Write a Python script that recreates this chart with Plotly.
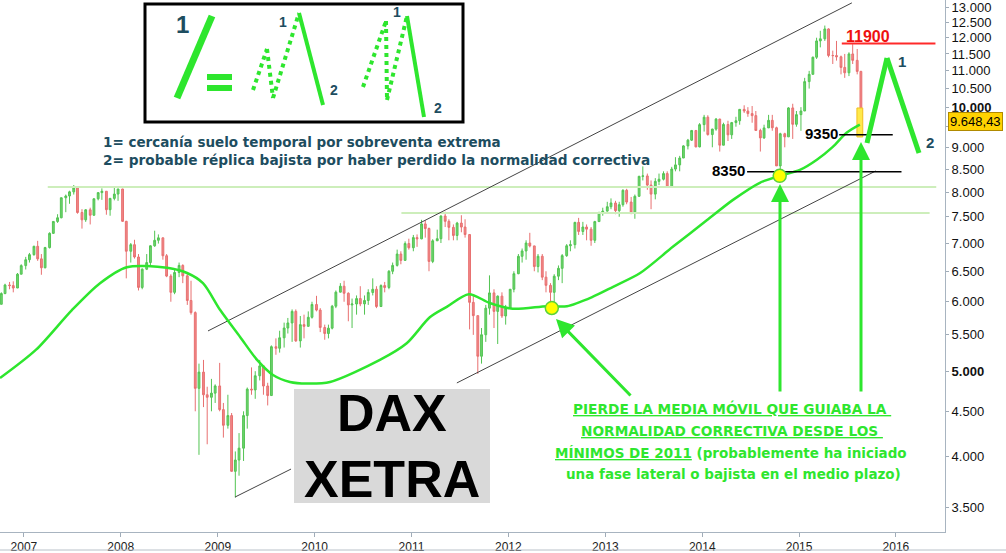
import pandas as pd
import plotly.graph_objects as go

# ---------------- DATA (semi-monthly DAX bars) ----------------
first_open = 5960
close = [
    6130, 6270, 6260, 6220, 6450, 6597,
    6700, 6790, 6940, 6715, 6560, 6917, 7180, 7408, 7480, 7883, 7920, 8007, 8090, 7584, 7440, 7638, 7530, 7862, 7990, 8019, 7640, 7870, 7960, 8067,
    7410, 6851, 6970, 6748, 6230, 6535, 6650, 6949, 7050, 7096, 6770, 6418, 6150, 6479, 6600, 6422, 6020, 5831, 4780, 4988, 4700, 4669, 4720, 4810,
    4520, 4338, 4450, 3844, 3960, 4085, 4450, 4770, 4760, 4940, 5070, 4809, 4690, 5332, 5310, 5458, 5600, 5675, 5850, 5414, 5650, 5625, 5760, 5957,
    5870, 5608, 5520, 5598, 5930, 6153, 6250, 6135, 5950, 5964, 6050, 5966, 6020, 6148, 6200, 5925, 6260, 6229, 6500, 6601, 6800, 6688, 6990, 6914,
    7100, 7077, 7360, 7272, 6670, 7041, 7080, 7514, 7410, 7294, 7140, 7376, 7300, 7158, 5990, 5785, 5200, 5502, 5900, 6141, 5850, 6089, 5780, 5898,
    6200, 6458, 6760, 6856, 7000, 6947, 6580, 6761, 6400, 6264, 6150, 6416, 6550, 6772, 6950, 6970, 7390, 7216, 7300, 7260, 7050, 7405, 7580, 7612,
    7700, 7776, 7620, 7741, 8040, 7795, 7590, 7914, 8340, 8348, 8150, 7959, 8230, 8276, 8400, 8103, 8500, 8594, 8750, 9033, 9170, 9405, 9010, 9552,
    9740, 9306, 9440, 9692, 9050, 9556, 9300, 9603, 9650, 9943, 9900, 9833, 9780, 9407, 9225, 9470, 9660, 9474, 8571, 9326, 9250, 9980, 9560, 9806,
    9900, 10694, 10900, 11401, 11900, 11966, 12280, 11454, 11450, 11414, 11100, 10945, 11500, 11308, 10985, 9648,
]
high = [
    6150, 6290, 6320, 6330, 6470, 6620,
    6750, 6820, 6950, 7040, 6800, 6930, 7200, 7410, 7550, 7890, 7950, 8030, 8151, 8100, 7650, 7650, 7680, 7870, 8000, 8080, 8020, 7880, 8100, 8070,
    8070, 7420, 7000, 7060, 6800, 6550, 6800, 6960, 7230, 7160, 7100, 6800, 6450, 6550, 6650, 6620, 6450, 6340, 5850, 5100, 5150, 4800, 4900, 4830,
    5110, 4600, 4700, 4480, 4050, 4250, 4500, 4790, 5050, 5000, 5150, 5050, 4850, 5350, 5450, 5560, 5680, 5750, 5880, 5880, 5780, 5800, 5850, 6000,
    6094, 5900, 5650, 5650, 5950, 6180, 6300, 6340, 6150, 6050, 6100, 6250, 6100, 6200, 6380, 6250, 6280, 6320, 6520, 6650, 6880, 6850, 7030, 7080,
    7150, 7160, 7440, 7430, 7290, 7070, 7250, 7530, 7600, 7450, 7350, 7400, 7530, 7450, 7100, 6100, 5700, 5600, 5950, 6430, 6200, 6100, 6150, 5950,
    6200, 6500, 6800, 6900, 7050, 7190, 6950, 6800, 6800, 6500, 6300, 6450, 6600, 6800, 6980, 7050, 7400, 7478, 7400, 7350, 7300, 7420, 7600, 7680,
    7800, 7870, 7820, 7800, 8060, 8070, 7900, 7950, 8350, 8560, 8400, 8250, 8300, 8400, 8450, 8450, 8550, 8770, 8800, 9050, 9200, 9420, 9420, 9590,
    9800, 9790, 9450, 9720, 9700, 9600, 9650, 9620, 9750, 9950, 10050, 10000, 10030, 9900, 9450, 9550, 9800, 9800, 9500, 9350, 9350, 10000, 10090, 9900,
    10000, 10800, 11000, 11420, 12000, 12220, 12390, 12300, 11600, 11900, 11450, 11500, 11550, 11800, 11650, 11000,
]
low = [
    5970, 6120, 6200, 6150, 6230, 6450,
    6530, 6650, 6770, 6680, 6440, 6550, 6900, 7170, 7380, 7470, 7590, 7760, 7950, 7560, 7270, 7400, 7350, 7520, 7830, 7840, 7540, 7520, 7830, 7820,
    7400, 6380, 6650, 6720, 6180, 6200, 6520, 6580, 6930, 6990, 6700, 6400, 6000, 6120, 6400, 6300, 5950, 5800, 4500, 4014, 4550, 4127, 4500, 4600,
    4500, 4200, 4300, 3840, 3588, 3800, 3950, 4300, 4700, 4650, 4880, 4700, 4570, 4690, 5220, 5250, 5320, 5520, 5400, 5400, 5320, 5450, 5620, 5740,
    5850, 5540, 5430, 5450, 5580, 5900, 6150, 6000, 5700, 5600, 5800, 5930, 5800, 5950, 6100, 5900, 5920, 6150, 6200, 6450, 6580, 6620, 6700, 6880,
    6850, 6930, 7070, 7100, 6500, 6640, 7050, 7000, 7300, 7050, 7050, 7050, 7200, 7100, 5580, 5500, 4965, 5100, 5400, 5800, 5600, 5370, 5750, 5650,
    5900, 6150, 6450, 6650, 6700, 6920, 6500, 6480, 6350, 6150, 5915, 6000, 6350, 6300, 6750, 6850, 6900, 7150, 7150, 7050, 6950, 7000, 7400, 7520,
    7600, 7650, 7550, 7500, 7700, 7750, 7550, 7460, 7900, 8250, 8050, 7650, 7850, 8150, 8250, 8100, 8150, 8450, 8450, 8750, 8950, 9150, 9000, 9000,
    9380, 9280, 9000, 9400, 8900, 9050, 9150, 9200, 9500, 9550, 9850, 9750, 9600, 9400, 8900, 9200, 9500, 9400, 8570, 8355, 9000, 9250, 9200, 9500,
    9400, 9900, 10500, 10900, 11350, 11700, 11900, 11400, 11200, 11300, 10900, 10800, 10850, 11200, 10900, 9338,
]

# Long moving average
ma_dates = ["2006-10-03", "2007-02-16", "2007-07-01", "2007-10-15", "2008-01-24", "2008-06-24", "2008-09-07",
            "2008-11-06", "2009-01-10", "2009-03-26", "2009-05-29", "2009-07-28", "2009-09-30", "2009-12-03",
            "2010-02-28", "2010-09-04", "2010-12-14", "2011-03-11", "2011-05-14", "2011-08-05", "2011-10-23",
            "2012-01-18", "2012-05-26", "2012-08-09", "2012-11-15", "2013-01-30", "2013-05-12", "2013-09-12",
            "2014-01-18", "2014-04-27", "2014-08-06", "2014-10-21", "2015-01-04", "2015-03-09", "2015-05-08",
            "2015-06-29", "2015-08-18"]
ma_vals = [4910, 5290, 5870, 6300, 6570, 6560, 6470, 6300, 5870, 5470, 5150, 4950, 4860, 4840,
           4860, 5150, 5380, 5760, 5920, 6120, 5980, 5890, 5930, 5930, 6080, 6240, 6470, 6930,
           7430, 7840, 8200, 8350, 8480, 8710, 9010, 9350, 9550]

# Trend channel lines (date, price)
upper_channel = (["2008-11-25", "2015-07-19"], [5557, 13150])
lower_channel_a = (["2009-03-07", "2009-10-04"], [3593, 3867])
lower_channel_b = (["2011-06-21", "2015-10-17"], [4848, 8458])
# Horizontal support / resistance levels
level_2007 = (["2007-04-01", "2016-06-01"], 8110)
level_2011 = (["2010-11-24", "2016-05-07"], 7575)
level_11900 = (["2015-06-11", "2016-05-29"], 11820)
level_9350 = (["2015-06-01", "2015-12-20"], 9300)
level_8350 = (["2014-06-19", "2016-01-22"], 8440)
touch_dates = ["2012-06-13", "2014-10-20"]
touch_vals = [5902, 8350]
last_price = 9648.43

year_ticks = [f"{y}-01-01" for y in range(2007, 2017)]
year_labels = [str(y) for y in range(2007, 2017)]
price_ticks = list(range(3500, 13001, 500))

# ---------------- BUILD ----------------
n = min(len(close), len(high), len(low))
close, high, low = close[:n], high[:n], low[:n]
dates = pd.date_range("2006-10-01", periods=n, freq="SMS") + pd.Timedelta(days=7)
opens = [first_open] + close[:-1]
hi = [max(h, o, c) for h, o, c in zip(high, opens, close)]
lo = [min(l, o, c) for l, o, c in zip(low, opens, close)]

W, H = 1006, 553
ML, MR, MT, MB = 0, 61, 0, 21
PW, PH = W - ML - MR, H - MT - MB

def px(x):
    return x / PW

def py(y):
    return 1 - y / PH

GREEN = "#2ee62e"
TEAL = "#1d4d60"
FONT = "Arial, Liberation Sans, sans-serif"
WIDE = "DejaVu Sans, Verdana, sans-serif"

fig = go.Figure()

# light green horizontal levels (behind bars)
for lv in (level_2007, level_2011):
    fig.add_trace(go.Scatter(x=lv[0], y=[lv[1], lv[1]], mode="lines",
                             line=dict(color="#cdeebb", width=2), hoverinfo="skip"))

# yellow highlight behind last bar
fig.add_trace(go.Scatter(x=["2015-08-07", "2015-08-29", "2015-08-29", "2015-08-07", "2015-08-07"],
                         y=[9979, 9979, 9248, 9248, 9979], mode="lines", fill="toself",
                         fillcolor="#ffe94a", line=dict(color="#f0c020", width=1), hoverinfo="skip"))

fig.add_trace(go.Candlestick(
    x=dates, open=opens, high=hi, low=lo, close=close,
    increasing=dict(line=dict(color="#52c452", width=1), fillcolor="#6fd46f"),
    decreasing=dict(line=dict(color="#e87070", width=1), fillcolor="#f08888"),
    whiskerwidth=0, hoverinfo="skip"))

# channel lines
for ch in (upper_channel, lower_channel_a, lower_channel_b):
    fig.add_trace(go.Scatter(x=ch[0], y=ch[1], mode="lines",
                             line=dict(color="#444444", width=1), hoverinfo="skip"))

# moving average
fig.add_trace(go.Scatter(x=ma_dates, y=ma_vals, mode="lines",
                         line=dict(color=GREEN, width=2.5, shape="spline", smoothing=0.8),
                         hoverinfo="skip"))

# price levels
fig.add_trace(go.Scatter(x=level_11900[0], y=[level_11900[1]] * 2, mode="lines",
                         line=dict(color="#ff2a2a", width=2), hoverinfo="skip"))
for lv in (level_9350, level_8350):
    fig.add_trace(go.Scatter(x=lv[0], y=[lv[1]] * 2, mode="lines",
                             line=dict(color="#000000", width=1.5), hoverinfo="skip"))

# touch points
fig.add_trace(go.Scatter(x=touch_dates, y=touch_vals, mode="markers",
                         marker=dict(size=13, color="#ffff00", line=dict(color="#5ad33a", width=1.5)),
                         hoverinfo="skip"))

shapes = []
# inset box
shapes.append(dict(type="rect", xref="paper", yref="paper", x0=px(145), x1=px(463), y0=py(122), y1=py(4),
                   line=dict(color="black", width=3), fillcolor="white", layer="above"))
def seg(x0, y0, x1, y1, width=4, dash="solid", color=GREEN):
    return dict(type="line", xref="paper", yref="paper", x0=px(x0), y0=py(y0), x1=px(x1), y1=py(y1),
                line=dict(color=color, width=width, dash=dash), layer="above")
shapes.append(seg(177, 98, 212, 16, width=7))
shapes.append(dict(type="rect", xref="paper", yref="paper", x0=px(207), x1=px(232), y0=py(80), y1=py(74),
                   line=dict(width=0), fillcolor=GREEN, layer="above"))
shapes.append(dict(type="rect", xref="paper", yref="paper", x0=px(207), x1=px(232), y0=py(91), y1=py(85),
                   line=dict(width=0), fillcolor=GREEN, layer="above"))
for a in [(253, 90, 267, 49), (267, 49, 273, 98), (273, 98, 299, 13),
          (363, 87, 386, 21), (386, 21, 387, 100), (387, 100, 407, 16)]:
    shapes.append(seg(*a, width=4, dash="dot"))
shapes.append(seg(299, 13, 323, 105, width=4))
shapes.append(seg(407, 16, 424, 117, width=4))
# right forecast zigzag
shapes.append(seg(867, 143, 887, 58, width=5))
shapes.append(seg(887, 58, 919, 153, width=5))
# DAX XETRA box
shapes.append(dict(type="rect", xref="paper", yref="paper", x0=px(294), x1=px(490), y0=py(503), y1=py(389),
                   line=dict(width=0), fillcolor="#d9d9d9", layer="above"))
# bottom separator
shapes.append(dict(type="line", xref="paper", yref="paper", x0=0, x1=W / PW, y0=py(550), y1=py(550),
                   line=dict(color="#b8c0c8", width=1)))

ann = []
def txt(x, y, t, size, color, xanchor="center", bold=True, family=FONT):
    ann.append(dict(x=px(x), y=py(y), xref="paper", yref="paper", text=(f"<b>{t}</b>" if bold else t),
                    showarrow=False, xanchor=xanchor, yanchor="middle",
                    font=dict(size=size, color=color, family=family)))

txt(182, 24, "1", 24, TEAL)
txt(283, 22, "1", 14, TEAL)
txt(334, 90, "2", 14, TEAL)
txt(397, 12, "1", 14, TEAL)
txt(438, 108, "2", 14, TEAL)
txt(101, 142, "1= cercanía suelo temporal por sobreventa extrema", 13.5, TEAL, xanchor="left", family=WIDE)
txt(101, 160, "2= probable réplica bajista por haber perdido la normalidad correctiva", 13.7, TEAL, xanchor="left", family=WIDE)
txt(392, 413, "DAX", 52, "black")
txt(392, 479, "XETRA", 52, "black")
txt(868, 36, "11900", 16, "#ee1111")
txt(821, 134, "9350", 15, "black")
txt(728, 171, "8350", 15, "black")
txt(902, 61, "1", 15, TEAL)
txt(930, 142, "2", 15, TEAL)
txt(732, 408, "<u>PIERDE LA MEDIA MÓVIL QUE GUIABA LA </u>", 13.7, GREEN, family=WIDE)
txt(732, 431, "<u>NORMALIDAD CORRECTIVA DESDE LOS </u>", 13.7, GREEN, family=WIDE)
txt(731, 453, "<u>MÍNIMOS DE 2011</u> (probablemente ha iniciado", 13.5, GREEN, family=WIDE)
txt(733, 474, "una fase lateral o bajista en el medio plazo)", 13.5, GREEN, family=WIDE)

for (hx, hy, ax, ay) in [(556, 319, 76, 78), (780, 184, 0, 209), (861, 142, 0, 251)]:
    ann.append(dict(x=px(hx), y=py(hy), xref="paper", yref="paper", text="", showarrow=True,
                    ax=ax, ay=ay, axref="pixel", ayref="pixel", arrowhead=2, arrowsize=1.2,
                    arrowwidth=3, arrowcolor=GREEN, standoff=0))

# last price tag on the axis (covers the 9.500 label, as in the original)
price_txt = f"{last_price:,.2f}".replace(",", "X").replace(".", ",").replace("X", ".")
ann.append(dict(x=1.003, y=py(121), xref="paper", yref="paper", text=price_txt,
                showarrow=False, xanchor="left", yanchor="middle", bgcolor="#ffd200",
                bordercolor="#b08a00", borderwidth=1, borderpad=1,
                font=dict(size=13, color="black", family=FONT)))

tick_text = []
for v in price_ticks:
    s = f"{v:,}".replace(",", ".")
    if v == 9500:
        s = ""
    tick_text.append(f"<b>{s}</b>" if v in (5000, 10000) else s)

fig.update_layout(
    width=W, height=H, margin=dict(l=ML, r=MR, t=MT, b=MB),
    paper_bgcolor="white", plot_bgcolor="white", showlegend=False,
    font=dict(family=FONT, size=13, color="#111"),
    shapes=shapes, annotations=ann,
    xaxis=dict(type="date", range=["2006-10-03", "2016-07-04"], tickvals=year_ticks, ticktext=year_labels,
               ticks="outside", ticklen=4, tickcolor="#a0acb8", showline=True, linecolor="#a8b4c0",
               showgrid=False, zeroline=False, rangeslider=dict(visible=False),
               tickfont=dict(size=12, color="#222")),
    yaxis=dict(type="log", side="right", range=[3.5156, 4.1222], tickvals=price_ticks, ticktext=tick_text,
               ticks="outside", ticklen=3, tickcolor="#a0acb8", showline=True, linecolor="#a8b4c0",
               showgrid=False, zeroline=False, tickfont=dict(size=13, color="#111"),
               ticklabeloverflow="allow"),
)

fig.write_html("out.html", config={"displayModeBar": False, "staticPlot": True},
               post_script="document.body.style.margin='0';document.body.style.padding='0';"
                           "document.body.style.overflow='hidden';")
